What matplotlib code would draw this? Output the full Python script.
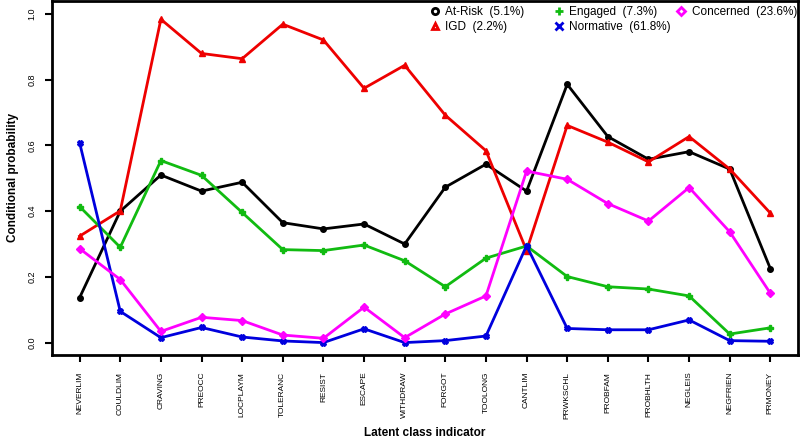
import numpy as np
import matplotlib.pyplot as plt
from matplotlib.lines import Line2D

plt.rcParams['font.family'] = ['Liberation Sans', 'DejaVu Sans']

indicators = ['NEVERLIM', 'COULDLIM', 'CRAVING', 'PREOCC', 'LOCPLAYM', 'TOLERANC',
              'RESIST', 'ESCAPE', 'WITHDRAW', 'FORGOT', 'TOOLONG', 'CANTLIM',
              'PRWKSCHL', 'PROBFAM', 'PROBHLTH', 'NEGLEIS', 'NEGFRIEN', 'PRMONEY']

at_risk = [0.137, 0.400, 0.510, 0.461, 0.488, 0.365, 0.346, 0.361, 0.300,
           0.473, 0.543, 0.461, 0.786, 0.627, 0.558, 0.581, 0.528, 0.225]
igd = [0.324, 0.401, 0.984, 0.880, 0.864, 0.969, 0.921, 0.774, 0.844,
       0.692, 0.584, 0.280, 0.661, 0.610, 0.550, 0.627, 0.528, 0.394]
engaged = [0.414, 0.290, 0.554, 0.509, 0.396, 0.283, 0.280, 0.297, 0.249,
           0.170, 0.257, 0.294, 0.201, 0.170, 0.163, 0.142, 0.026, 0.045]
normative = [0.608, 0.095, 0.015, 0.046, 0.017, 0.005, 0.000, 0.042, 0.000,
             0.006, 0.020, 0.295, 0.043, 0.039, 0.039, 0.069, 0.006, 0.004]
concerned = [0.286, 0.192, 0.034, 0.077, 0.067, 0.023, 0.013, 0.108, 0.015,
             0.087, 0.142, 0.522, 0.497, 0.423, 0.370, 0.472, 0.337, 0.150]

labels = ['At-Risk  (5.1%)', 'IGD  (2.2%)', 'Engaged  (7.3%)',
          'Normative  (61.8%)', 'Concerned  (23.6%)']
colors = ['black', '#ee0000', '#11bb11', '#0000dd', '#ff00ff']
markers = ['o', '^', 'P', 'X', 'D']
series = [at_risk, igd, engaged, normative, concerned]

fig = plt.figure(figsize=(8, 4.4), dpi=100)
ax = fig.add_axes([0.065, 0.193, 0.9325, 0.805])
x = np.arange(len(indicators))

for vals, c, m in zip(series, colors, markers):
    ax.plot(x, vals, color=c, lw=2, marker=m, ms=4 if m != 'D' else 3.8, mec=c, mfc=c)

ax.set_xlim(-0.68, 17.68)
ax.set_ylim(-0.038, 1.04)
ax.set_xticks(x)
ax.set_xticklabels(indicators, rotation=90, fontsize=6)
ax.set_yticks([0, 0.2, 0.4, 0.6, 0.8, 1.0])
ax.set_yticklabels(['0.0', '0.2', '0.4', '0.6', '0.8', '1.0'], rotation=90,
                   fontsize=6.5, va='center')
ax.tick_params(axis='x', width=1.5, length=5, pad=7, color='black')
ax.tick_params(axis='y', width=1.5, length=5, pad=6, color='black')
for s in ax.spines.values():
    s.set_linewidth(2)

ax.set_ylabel('Conditional probability', fontsize=8.5, fontweight='bold', labelpad=6)
ax.set_xlabel('Latent class indicator', fontsize=8.5, fontweight='bold')
ax.xaxis.set_label_coords(0.5, -0.203)

# legend: three columns of equal width, like R's legend(ncol=3)
leg_markers = ['o', '^', '+', 'x', 'D']
handles = [Line2D([], [], ls='none', marker=m, color=c, mfc='none', mec=c,
                  ms=5.5 if m in '+x' else 4.5, mew=2)
           for m, c in zip(leg_markers, colors)]
col_x = [0.539, 0.694, 0.847]
cols = [[0, 1], [2, 3], [4]]
for cx, idx in zip(col_x, cols):
    lg = fig.legend([handles[i] for i in idx], [labels[i] for i in idx],
                    loc='upper left', bbox_to_anchor=(cx, 1 - 6.5 / 440),
                    frameon=False, fontsize=8.5, handlelength=0.6,
                    handletextpad=0.6, labelspacing=0.25, borderpad=0,
                    borderaxespad=0)

fig.savefig('out.png', dpi=100)
